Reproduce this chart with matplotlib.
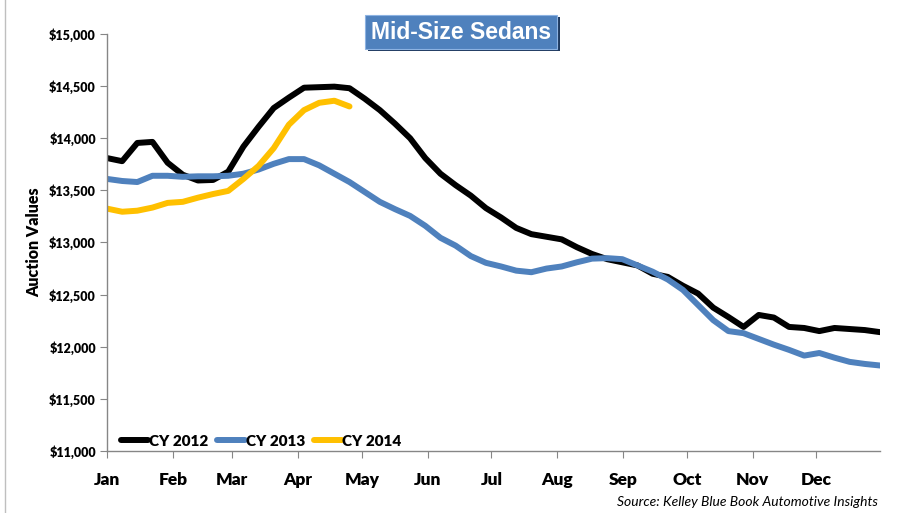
import matplotlib
matplotlib.use("Agg")
import matplotlib.pyplot as plt
from matplotlib.patches import Rectangle
from matplotlib.ticker import FuncFormatter
import numpy as np

# ---- data (weekly auction values) ----
cy2012 = [13810, 13780, 13955, 13965, 13765, 13650, 13595, 13600, 13680, 13920,
          14110, 14290, 14390, 14485, 14490, 14495, 14480, 14380, 14270, 14140,
          14000, 13810, 13660, 13550, 13450, 13330, 13240, 13140, 13080, 13055,
          13030, 12955, 12890, 12840, 12810, 12780, 12700, 12670, 12585, 12510,
          12375, 12285, 12190, 12305, 12280, 12190, 12180, 12150, 12180, 12170,
          12160, 12140]
cy2013 = [13610, 13590, 13580, 13640, 13640, 13630, 13635, 13635, 13640, 13660,
          13700, 13755, 13800, 13800, 13740, 13660, 13580, 13485, 13390, 13320,
          13255, 13160, 13045, 12970, 12870, 12805, 12770, 12730, 12715, 12750,
          12770, 12810, 12845, 12850, 12840, 12780, 12720, 12645, 12545, 12400,
          12255, 12150, 12130, 12075, 12020, 11970, 11915, 11940, 11895, 11855,
          11835, 11820]
cy2014 = [13325, 13295, 13305, 13335, 13380, 13390, 13430, 13465, 13495, 13610,
          13735, 13905, 14130, 14270, 14340, 14360, 14305]
series_names = ["CY 2012", "CY 2013", "CY 2014"]
series_colors = ["#000000", "#4F81BD", "#FFC000"]
months = ["Jan", "Feb", "Mar", "Apr", "May", "Jun", "Jul", "Aug", "Sep", "Oct", "Nov", "Dec"]
month_start_days = [0, 31, 59, 90, 120, 151, 181, 212, 243, 273, 304, 334]
y_ticks = [11000, 11500, 12000, 12500, 13000, 13500, 14000, 14500, 15000]

FONT = "Lato"
W = "heavy"
fig = plt.figure(figsize=(9.03, 5.13), dpi=100)
ax = fig.add_axes([0.1185, 0.1209, 0.856, 0.8128])

n_weeks = len(cy2012)
for vals, name, col in zip([cy2012, cy2013, cy2014], series_names, series_colors):
    x = np.arange(len(vals))
    ax.plot(x, vals, color=col, lw=4.3, label=name, solid_capstyle="round",
            solid_joinstyle="round")

ax.set_xlim(0, n_weeks - 1)
ax.set_ylim(11000, 15000)
tick_pos = [d / 364 * (n_weeks - 1) for d in month_start_days]
ax.set_xticks(tick_pos)
ax.set_xticklabels(months, fontsize=12.5, fontweight=W, family=FONT)
ax.set_yticks(y_ticks)
ax.yaxis.set_major_formatter(FuncFormatter(lambda v, p: "${:,.0f}".format(v)))
for lab in ax.get_yticklabels():
    lab.set_fontsize(9)
    lab.set_fontweight(W)
    lab.set_family(FONT)
ax.tick_params(axis="x", length=5, color="#868686", pad=10)
ax.tick_params(axis="y", length=5, color="#868686", pad=3)
for s in ["top", "right"]:
    ax.spines[s].set_visible(False)
for s in ["left", "bottom"]:
    ax.spines[s].set_color("#868686")
    ax.spines[s].set_linewidth(1)

ax.set_ylabel("Auction Values", fontsize=11.5, fontweight=W, family=FONT, labelpad=5)

leg = ax.legend(loc="lower left", ncol=3, frameon=False, bbox_to_anchor=(0.0, -0.025),
                prop={"family": FONT, "weight": W, "size": 11},
                handlelength=1.8, handletextpad=0.05, columnspacing=0.6)

# title box
fig.patches.append(Rectangle((0.407, 0.900), 0.213, 0.066, transform=fig.transFigure,
                             facecolor="#1F3A5F", edgecolor="none", zorder=1))
fig.patches.append(Rectangle((0.404, 0.904), 0.213, 0.066, transform=fig.transFigure,
                             facecolor="#4F81BD", edgecolor="#8DB3E2", lw=0.8, zorder=2))
fig.text(0.5105, 0.937, "Mid-Size Sedans", ha="center", va="center", color="white",
         fontsize=16.5, fontweight="bold", family="Liberation Sans", zorder=3)

fig.text(0.972, 0.022, "Source: Kelley Blue Book Automotive Insights", ha="right",
         va="center", fontsize=10, style="italic", family=FONT)

# chart border on the left
fig.patches.append(Rectangle((0.006, -0.01), 1.2, 1.2, transform=fig.transFigure,
                             facecolor="none", edgecolor="#BFBFBF", lw=1))

fig.savefig("out.png", dpi=100)
